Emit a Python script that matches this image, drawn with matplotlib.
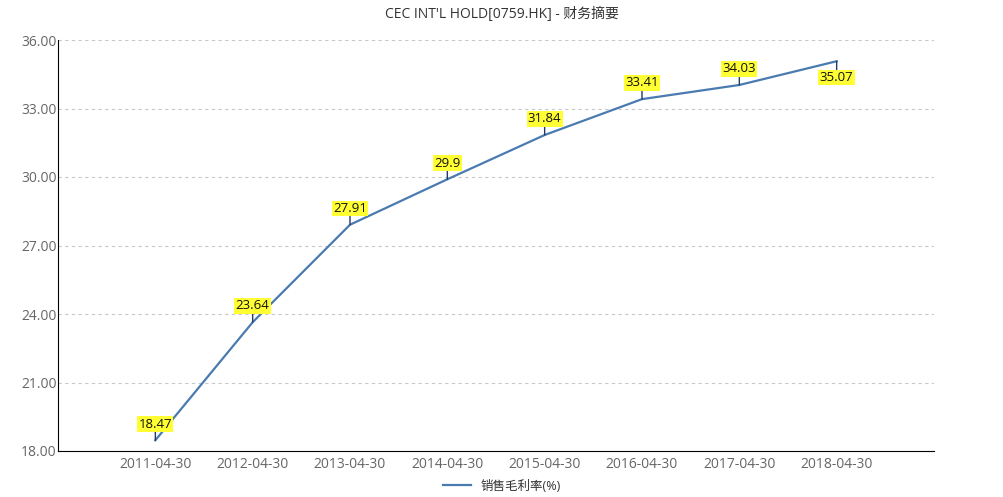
import matplotlib
matplotlib.use('Agg')
import matplotlib.pyplot as plt
import numpy as np

# --- data
dates = ["2011-04-30", "2012-04-30", "2013-04-30", "2014-04-30",
         "2015-04-30", "2016-04-30", "2017-04-30", "2018-04-30"]
margin = [18.47, 23.64, 27.91, 29.9, 31.84, 33.41, 34.03, 35.07]
labels = ["18.47", "23.64", "27.91", "29.9", "31.84", "33.41", "34.03", "35.07"]
yticks = [18, 21, 24, 27, 30, 33, 36]

plt.rcParams['font.family'] = ['Open Sans', 'Noto Sans CJK SC', 'DejaVu Sans']

fig = plt.figure(figsize=(10.04, 4.97), dpi=100)
ax = fig.add_axes([58/1004, 1-451/497, (934-58)/1004, (451-40)/497])

x = np.arange(len(dates))
line_c = "#4a7bb0"
ax.plot(x, margin, color=line_c, lw=1.6, label="销售毛利率(%)", zorder=3)

# --- value labels: small tick + yellow box
for i, (xi, v, t) in enumerate(zip(x, margin, labels)):
    below = (i == len(x) - 1)
    off = -7 if below else 7
    ax.annotate("", xy=(xi, v), xytext=(0, off), textcoords="offset points",
                arrowprops=dict(arrowstyle="-", color="#1f3b6a", lw=1.0,
                                shrinkA=0, shrinkB=0), zorder=4)
    ax.annotate(t, xy=(xi, v), xytext=(0, off), textcoords="offset points",
                ha="center", va="top" if below else "bottom", fontsize=9.5,
                color="#111111",
                bbox=dict(boxstyle="square,pad=0.1", fc="#ffff33", ec="none"),
                zorder=5)

ax.set_xlim(-1, 8)
ax.set_ylim(18, 36)
ax.set_xticks(x)
ax.set_xticklabels(dates)
ax.set_yticks(yticks)
ax.set_yticklabels(["%.2f" % v for v in yticks])
ax.tick_params(axis='both', length=0, labelsize=10, labelcolor="#666666")
ax.tick_params(axis='y', pad=1)
ax.tick_params(axis='x', pad=4)
ax.grid(axis='y', linestyle=(0, (3, 3)), color="#c8c8c8", lw=0.8)
for s in ["top", "right"]:
    ax.spines[s].set_visible(False)
ax.spines["left"].set_color("black")
ax.spines["bottom"].set_color("black")

fig.text(0.5, 1-14/497, "CEC INT'L HOLD[0759.HK] - 财务摘要", ha="center",
         va="center", fontsize=10, color="#333333")
fig.legend(loc="center", bbox_to_anchor=(0.5, 1-486/497), frameon=False,
           fontsize=9, handlelength=2.2, labelcolor="#333333")

fig.savefig("out.png", dpi=100)
